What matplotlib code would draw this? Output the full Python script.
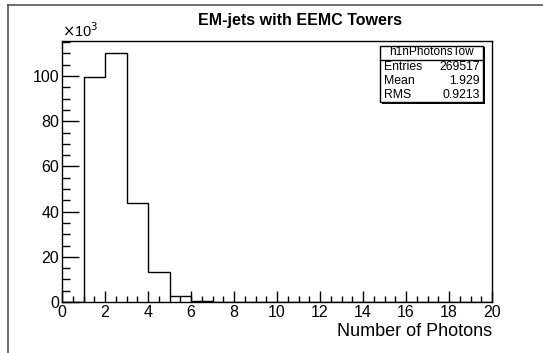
import numpy as np
import matplotlib
matplotlib.use('Agg')
import matplotlib.pyplot as plt
from matplotlib.ticker import MultipleLocator
from matplotlib.patches import Rectangle
from matplotlib.lines import Line2D

plt.rcParams['font.family'] = ['Liberation Sans', 'DejaVu Sans']

# histogram contents (in units of 10^3), integer photon counts 0..19
bin_edges = np.arange(0, 21, 1)
counts = [0, 99.5, 110.0, 43.8, 13.1, 2.6, 0.5, 0, 0, 0,
          0, 0, 0, 0, 0, 0, 0, 0, 0, 0]
stats_name = 'h1nPhotonsTow'
stats_rows = [('Entries', '269517'), ('Mean', '1.929'), ('RMS', '0.9213')]

W, H = 543, 353
fig = plt.figure(figsize=(W/100, H/100), dpi=100)

# outer canvas frame
fig.add_artist(Line2D([8/W, 8/W], [0, 1-5/H], color='#555555', lw=1.2))
fig.add_artist(Line2D([8/W, 1], [1-5/H, 1-5/H], color='#555555', lw=1.2))

ax = fig.add_axes([62/W, 51/H, 430/W, 261/H])
ax.stairs(counts, bin_edges, color='black', lw=1.0)
ax.set_xlim(0, 20)
ax.set_ylim(0, 115.5)

for s in ax.spines.values():
    s.set_linewidth(1.0)
    s.set_color('black')

ax.xaxis.set_major_locator(MultipleLocator(2))
ax.xaxis.set_minor_locator(MultipleLocator(0.5))
ax.yaxis.set_major_locator(MultipleLocator(20))
ax.yaxis.set_minor_locator(MultipleLocator(5))
ax.tick_params(axis='x', which='major', direction='in', length=8, width=1,
               labelsize=11.5, pad=2, top=False)
ax.tick_params(axis='x', which='minor', direction='in', length=4, width=1, top=False)
ax.tick_params(axis='y', which='major', direction='in', length=12, width=1,
               labelsize=11.5, pad=2, right=False)
ax.tick_params(axis='y', which='minor', direction='in', length=6, width=1, right=False)

ax.text(0, 1.005, r'$\times$10$^3$', transform=ax.transAxes, fontsize=10.5,
        ha='left', va='bottom')
fig.text(492/W, 1-331/H, 'Number of Photons', fontsize=13, ha='right', va='center')
fig.text(300/W, 1-20/H, 'EM-jets with EEMC Towers', fontsize=11.5,
         fontweight='bold', ha='center', va='center')

# stats box with shadow
x0, x1, y0, y1 = 380, 483, 46, 102
fig.add_artist(Rectangle(((x0+1.5)/W, 1-(y1+1.5)/H), (x1-x0)/W, (y1-y0)/H,
                         facecolor='black', edgecolor='black', lw=0))
fig.add_artist(Rectangle((x0/W, 1-y1/H), (x1-x0)/W, (y1-y0)/H,
                         facecolor='white', edgecolor='black', lw=1))
fig.add_artist(Line2D([x0/W, x1/W], [1-59.5/H, 1-59.5/H], color='black', lw=1))
fig.text((x0+x1)/2/W, 1-52/H, stats_name, fontsize=8.6, ha='center', va='center')
for i, (k, v) in enumerate(stats_rows):
    yy = 1-(66.5+14*i)/H
    fig.text((x0+4)/W, yy, k, fontsize=8.8, ha='left', va='center')
    fig.text((x1-3)/W, yy, v, fontsize=8.8, ha='right', va='center')

fig.savefig('out.png', dpi=100)
